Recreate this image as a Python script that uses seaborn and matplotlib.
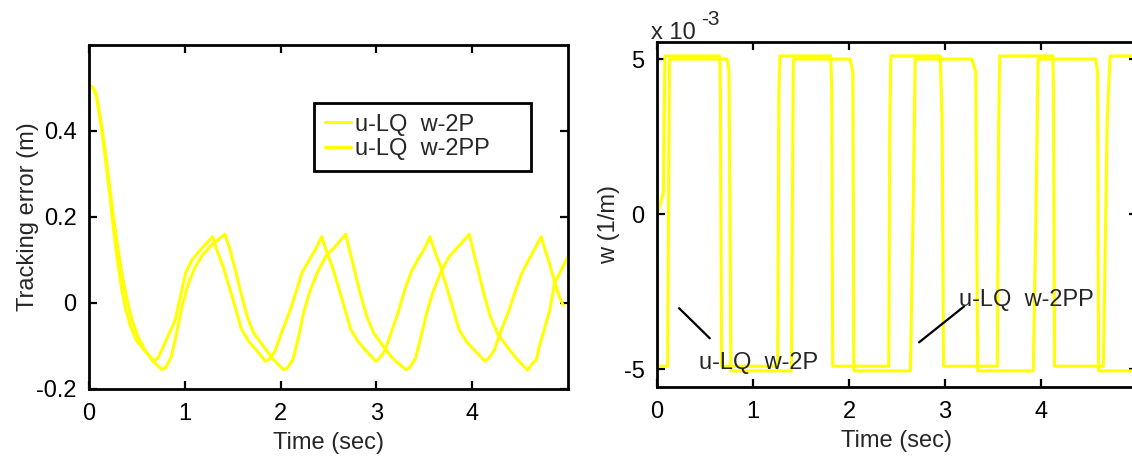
import matplotlib
matplotlib.use("Agg")
import matplotlib.pyplot as plt
import seaborn as sns

# ---------------- data ----------------
# Tracking error (m), controller u-LQ with disturbance w-2P
t_err_2p = [0.00, 0.04, 0.07, 0.10, 0.14, 0.18, 0.22, 0.26, 0.30, 0.34, 0.38, 0.43, 0.49, 0.57, 0.68,
            0.72, 0.78, 0.84, 0.90, 0.96, 1.01, 1.07, 1.13, 1.21, 1.29,
            1.34, 1.40, 1.46, 1.52, 1.59, 1.67, 1.76, 1.84,
            1.88, 1.94, 2.01, 2.09, 2.17, 2.22, 2.30, 2.36, 2.43,
            2.48, 2.54, 2.60, 2.66, 2.73, 2.81, 2.90, 2.99,
            3.03, 3.09, 3.16, 3.23, 3.30, 3.36, 3.43, 3.50, 3.56,
            3.61, 3.67, 3.73, 3.79, 3.86, 3.94, 4.04, 4.13,
            4.17, 4.23, 4.30, 4.38, 4.46, 4.52, 4.59, 4.65, 4.72,
            4.76, 4.81, 4.86, 4.91, 4.95]
err_2p = [0.505, 0.500, 0.490, 0.450, 0.390, 0.320, 0.245, 0.165, 0.095, 0.035, -0.012, -0.052, -0.085, -0.108, -0.135,
          -0.128, -0.100, -0.070, -0.040, 0.020, 0.070, 0.098, 0.115, 0.135, 0.154,
          0.120, 0.085, 0.040, -0.005, -0.060, -0.090, -0.113, -0.135,
          -0.131, -0.113, -0.069, -0.023, 0.031, 0.069, 0.100, 0.123, 0.154,
          0.120, 0.085, 0.040, -0.005, -0.060, -0.090, -0.113, -0.135,
          -0.130, -0.110, -0.066, -0.020, 0.033, 0.070, 0.100, 0.125, 0.154,
          0.120, 0.085, 0.040, -0.005, -0.060, -0.090, -0.113, -0.135,
          -0.130, -0.110, -0.066, -0.020, 0.033, 0.070, 0.100, 0.125, 0.154,
          0.125, 0.090, 0.050, 0.015, -0.005]

# Tracking error (m), controller u-LQ with disturbance w-2PP
t_err_2pp = [0.00, 0.04, 0.08, 0.12, 0.16, 0.20, 0.25, 0.30, 0.35, 0.40, 0.45, 0.51, 0.58, 0.66, 0.76,
             0.80, 0.86, 0.91, 0.97, 1.03, 1.10, 1.18, 1.28, 1.42,
             1.47, 1.53, 1.59, 1.65, 1.72, 1.82, 1.92, 2.03,
             2.07, 2.13, 2.19, 2.24, 2.30, 2.38, 2.47, 2.57, 2.68,
             2.72, 2.78, 2.84, 2.90, 2.97, 3.07, 3.18, 3.31,
             3.35, 3.41, 3.47, 3.53, 3.59, 3.67, 3.76, 3.86, 3.97,
             4.01, 4.07, 4.13, 4.19, 4.26, 4.36, 4.47, 4.58,
             4.63, 4.67, 4.70, 4.76, 4.81, 4.86, 4.91, 5.00]
err_2pp = [0.505, 0.502, 0.480, 0.430, 0.370, 0.300, 0.210, 0.130, 0.060, 0.005, -0.040, -0.078, -0.108, -0.133, -0.155,
           -0.150, -0.125, -0.075, -0.010, 0.040, 0.080, 0.110, 0.135, 0.160,
           0.125, 0.075, 0.020, -0.030, -0.070, -0.100, -0.130, -0.155,
           -0.152, -0.131, -0.077, -0.023, 0.023, 0.069, 0.108, 0.131, 0.160,
           0.123, 0.069, 0.015, -0.031, -0.069, -0.100, -0.131, -0.155,
           -0.150, -0.128, -0.075, -0.020, 0.025, 0.070, 0.108, 0.132, 0.160,
           0.123, 0.069, 0.015, -0.031, -0.069, -0.100, -0.131, -0.156,
           -0.140, -0.133, -0.102, -0.056, -0.017, 0.045, 0.068, 0.107]

# Disturbance w (1/m), in units of 1e-3
t_w_2p = [0.00, 0.067, 0.082, 0.653, 0.660, 0.672, 1.257, 1.270, 1.280,
          1.810, 1.820, 1.830, 2.414, 2.425, 2.437, 2.950, 2.970, 2.985,
          3.545, 3.560, 3.571, 4.123, 4.130, 4.142, 4.650, 4.690, 4.720, 5.00]
w_2p = [0.0, 0.7, 5.1, 5.1, 4.0, -4.9, -4.9, 4.0, 5.1,
        5.1, 4.0, -4.9, -4.9, 3.0, 5.1, 5.1, 3.0, -4.9,
        -4.9, 3.0, 5.1, 5.1, 4.0, -4.9, -4.9, 3.0, 5.1, 5.1]

t_w_2pp = [0.00, 0.005, 0.110, 0.120, 0.130, 0.730, 0.750, 0.770,
           1.400, 1.410, 1.420, 2.010, 2.040, 2.050, 2.640, 2.670, 2.690,
           3.280, 3.320, 3.340, 3.920, 3.950, 3.970, 4.570, 4.590, 4.600, 5.00]
w_2pp = [0.0, -4.9, -4.9, 0.0, 5.0, 5.0, 4.6, -5.05,
         -5.05, 0.0, 5.0, 5.0, 4.6, -5.05, -5.05, 0.5, 5.0,
         5.0, 4.6, -5.05, -5.05, 0.5, 5.0, 5.0, 4.6, -5.05, -5.05]

label_2p = "u-LQ  w-2P"
label_2pp = "u-LQ  w-2PP"
x_ticks = [0, 1, 2, 3, 4]
err_ticks = [-0.2, 0, 0.2, 0.4]
err_ticklabels = ["-0.2", "0", "0.2", "0.4"]
w_ticks = [-5, 0, 5]

# ---------------- style ----------------
sns.set_style("ticks")
plt.rcParams["font.family"] = ["Liberation Sans", "DejaVu Sans"]
plt.rcParams["font.size"] = 17
plt.rcParams["axes.linewidth"] = 2.0

yellow = "#FFFF00"
lw = 2.2

fig = plt.figure(figsize=(11.32, 4.58), dpi=100)
ax1 = fig.add_axes([0.0786, 0.1507, 0.4231, 0.7511])
ax2 = fig.add_axes([0.5804, 0.1550, 0.4240, 0.7533])

# ---------------- left: tracking error ----------------
sns.lineplot(x=t_err_2p, y=err_2p, ax=ax1, color=yellow, lw=lw,
             sort=False, estimator=None, label=label_2p)
sns.lineplot(x=t_err_2pp, y=err_2pp, ax=ax1, color=yellow, lw=lw,
             sort=False, estimator=None, label=label_2pp)
ax1.set_xlim(0, 5)
ax1.set_ylim(-0.2, 0.6)
ax1.set_xticks(x_ticks)
ax1.set_xticklabels([str(v) for v in x_ticks])
ax1.set_yticks(err_ticks)
ax1.set_yticklabels(err_ticklabels)
ax1.set_xlabel("Time (sec)", fontsize=17, labelpad=5)
ax1.set_ylabel("Tracking error (m)", fontsize=17)
ax1.yaxis.set_label_coords(-0.104, 0.5)

leg = ax1.legend(loc="upper left", bbox_to_anchor=(0.4697, 0.6308, 0.4531, 0.2006),
                 mode="expand", borderaxespad=0, fontsize=17, frameon=True,
                 fancybox=False, edgecolor="black", framealpha=1,
                 borderpad=0.45, labelspacing=0.12, handlelength=1.1,
                 handletextpad=0.17)
leg.get_frame().set_linewidth(2.0)

# ---------------- right: disturbance ----------------
sns.lineplot(x=t_w_2p, y=w_2p, ax=ax2, color=yellow, lw=lw,
             sort=False, estimator=None)
sns.lineplot(x=t_w_2pp, y=w_2pp, ax=ax2, color=yellow, lw=lw,
             sort=False, estimator=None)
ax2.set_xlim(0, 5)
ax2.set_ylim(-5.57, 5.55)
ax2.set_xticks(x_ticks)
ax2.set_xticklabels([str(v) for v in x_ticks])
ax2.set_yticks(w_ticks)
ax2.set_yticklabels([str(v) for v in w_ticks])
ax2.set_xlabel("Time (sec)", fontsize=17, labelpad=5)
ax2.set_ylabel("w (1/m)", fontsize=17)
ax2.yaxis.set_label_coords(-0.077, 0.47)

# scale factor of the w axis
ax2.text(-0.012, 1.009, "x 10", transform=ax2.transAxes, fontsize=17,
         ha="left", va="baseline")
ax2.text(0.092, 1.05, "-3", transform=ax2.transAxes, fontsize=15,
         ha="left", va="baseline")

# curve annotations
ax2.plot([0.23, 0.55], [-3.03, -4.0], color="black", lw=1.6)
ax2.text(0.44, -4.8, label_2p, fontsize=17, ha="left", va="center")
ax2.plot([2.73, 3.20], [-4.13, -2.97], color="black", lw=1.6)
ax2.text(3.15, -2.77, label_2pp, fontsize=17, ha="left", va="center")

for ax in (ax1, ax2):
    ax.tick_params(direction="in", length=6, width=1.6, top=True, right=True,
                   labelsize=17, colors="black")
    ax.tick_params(axis="x", pad=10)
    ax.tick_params(axis="y", pad=9)
    for s in ax.spines.values():
        s.set_linewidth(2.0)
        s.set_color("black")
    ax.set_facecolor("white")

fig.savefig("out.png", dpi=100, facecolor="white")
